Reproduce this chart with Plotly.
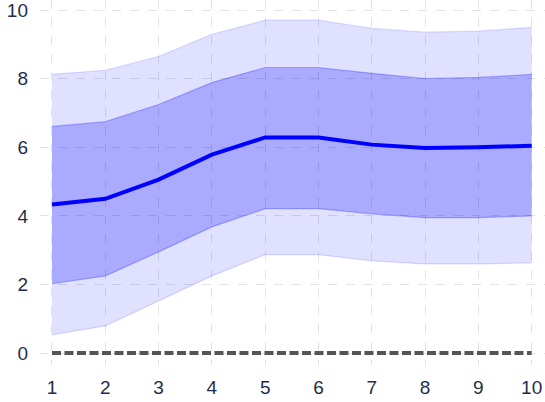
import plotly.graph_objects as go

x = [1, 2, 3, 4, 5, 6, 7, 8, 9, 10]
median = [4.33, 4.5, 5.06, 5.79, 6.29, 6.29, 6.08, 5.98, 6.0, 6.05]
inner_upper = [6.61, 6.75, 7.25, 7.89, 8.33, 8.33, 8.16, 8.01, 8.04, 8.13]
inner_lower = [2.02, 2.25, 2.95, 3.68, 4.21, 4.21, 4.06, 3.95, 3.95, 4.0]
outer_upper = [8.13, 8.25, 8.65, 9.3, 9.71, 9.71, 9.47, 9.36, 9.39, 9.5]
outer_lower = [0.53, 0.79, 1.52, 2.25, 2.87, 2.87, 2.69, 2.6, 2.6, 2.63]
zero = [0] * len(x)

fig = go.Figure()
fig.add_trace(go.Scatter(x=x, y=outer_lower, mode="lines",
                         line=dict(color="rgba(0,0,255,0.13)", width=1.2), showlegend=False))
fig.add_trace(go.Scatter(x=x, y=outer_upper, mode="lines", fill="tonexty",
                         fillcolor="rgba(0,0,255,0.12)",
                         line=dict(color="rgba(0,0,255,0.13)", width=1.2), showlegend=False))
fig.add_trace(go.Scatter(x=x, y=inner_lower, mode="lines",
                         line=dict(color="rgba(0,0,255,0.25)", width=1.2), showlegend=False))
fig.add_trace(go.Scatter(x=x, y=inner_upper, mode="lines", fill="tonexty",
                         fillcolor="rgba(0,0,255,0.24)",
                         line=dict(color="rgba(0,0,255,0.25)", width=1.2), showlegend=False))
fig.add_trace(go.Scatter(x=x, y=median, mode="lines",
                         line=dict(color="blue", width=4), showlegend=False))
fig.add_trace(go.Scatter(x=x, y=zero, mode="lines",
                         line=dict(color="#555555", width=4, dash="9px,3.5px"), showlegend=False))

fig.update_layout(
    width=545, height=402,
    margin=dict(l=40, r=0, t=0, b=37),
    paper_bgcolor="white", plot_bgcolor="white",
    font=dict(family="Arial, Liberation Sans", size=19, color="#1f2d4d"),
)
fig.update_xaxes(range=[0.775, 10.25], tickvals=x, showgrid=True, automargin=False,
                 gridcolor="#e3e3e3", griddash="dash", zeroline=False, showline=False,
                 ticklabelstandoff=9, ticklabeloverflow="allow")
fig.update_yaxes(range=[-0.35, 10.3], tickvals=[0, 2, 4, 6, 8, 10], showgrid=True,
                 automargin=False,
                 gridcolor="#e3e3e3", griddash="dash", zeroline=False, showline=False,
                 ticklabelstandoff=11, ticklabeloverflow="allow")
fig.write_html("out.html", config={"displayModeBar": False},
               post_script="document.body.style.margin='0';")
